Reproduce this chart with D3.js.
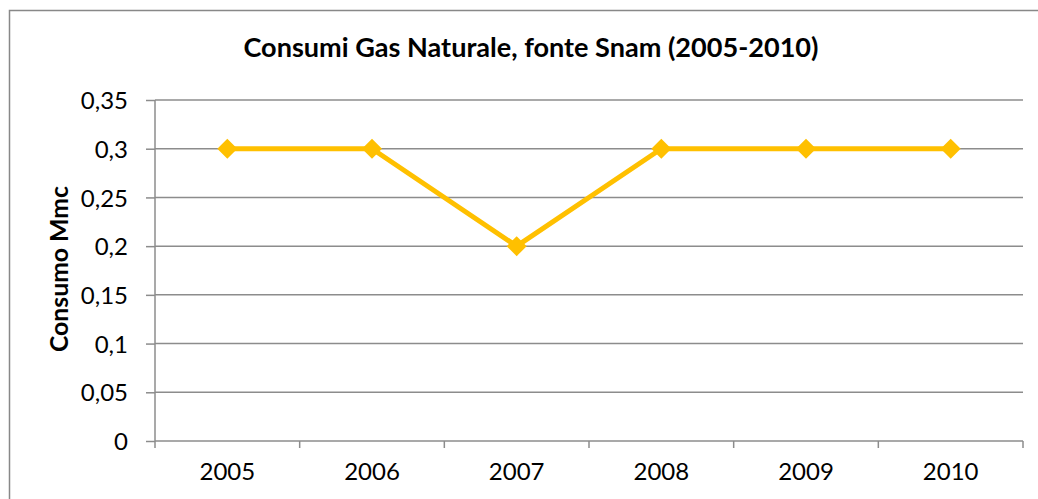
<!DOCTYPE html>
<html>
<head>
<meta charset="utf-8">
<script src="https://cdn.jsdelivr.net/npm/d3@7"></script>
<style>
  body { margin: 0; background: #fff; }
  svg text { font-family: Lato, "Open Sans", sans-serif; fill: #000; }
</style>
</head>
<body>
<div class="viz"></div>
<script>
// data
const years = ["2005", "2006", "2007", "2008", "2009", "2010"];
const consumi = [0.3, 0.3, 0.2, 0.3, 0.3, 0.3];
const yTicks = [0, 0.05, 0.1, 0.15, 0.2, 0.25, 0.3, 0.35];

var width = 1038, height = 499;
var margin = { top: 100, left: 155, right: 15, bottom: 58 };
var plotW = width - margin.left - margin.right,
    plotH = height - margin.top - margin.bottom;

var svg = d3.select('.viz').append('svg')
    .attr('width', width)
    .attr('height', height);

// chart area border (runs past the right and bottom edge)
svg.append('rect')
    .attr('x', 9.5).attr('y', 10.5)
    .attr('width', 1040).attr('height', 500)
    .attr('fill', 'none')
    .attr('stroke', '#888')
    .attr('stroke-width', 1.5);

var x = d3.scaleBand().domain(years).range([0, plotW]);
var y = d3.scaleLinear().domain([0, 0.35]).range([plotH, 0]);

var g = svg.append('g')
    .attr('transform', 'translate(' + margin.left + ',' + margin.top + ')');

// gridlines
g.append('g')
    .selectAll('line')
    .data(yTicks.filter(d => d > 0))
    .enter().append('line')
    .attr('x1', 0).attr('x2', plotW)
    .attr('y1', d => y(d)).attr('y2', d => y(d))
    .attr('stroke', '#8c8c8c')
    .attr('stroke-width', 1.5);

// y axis
var yAxis = g.append('g')
    .call(d3.axisLeft(y).tickValues(yTicks).tickSize(9).tickPadding(18)
        .tickFormat(d => d3.format('')(d).replace('.', ',')));
yAxis.selectAll('line, path').attr('stroke', '#8c8c8c').attr('stroke-width', 1.5);
yAxis.select('.domain').attr('d', 'M0,0V' + plotH);
yAxis.selectAll('text').attr('font-size', 24).attr('dy', '0.36em')
    .style('font-family', 'Lato, sans-serif');

// x axis with ticks at category boundaries
var xAxis = g.append('g').attr('transform', 'translate(0,' + plotH + ')');
xAxis.append('line')
    .attr('x1', 0).attr('x2', plotW)
    .attr('stroke', '#8c8c8c').attr('stroke-width', 1.5);
xAxis.selectAll('.tk')
    .data(years.map(d => x(d)).concat([plotW]))
    .enter().append('line')
    .attr('x1', d => d).attr('x2', d => d)
    .attr('y1', 0).attr('y2', 7)
    .attr('stroke', '#8c8c8c').attr('stroke-width', 1.5);
xAxis.selectAll('text')
    .data(years)
    .enter().append('text')
    .attr('x', d => x(d) + x.bandwidth() / 2)
    .attr('y', 39)
    .attr('text-anchor', 'middle')
    .attr('font-size', 24)
    .text(d => d);

// line
var line = d3.line()
    .x((d, i) => x(years[i]) + x.bandwidth() / 2)
    .y(d => y(d));

g.append('path')
    .datum(consumi)
    .attr('d', line)
    .attr('fill', 'none')
    .attr('stroke', '#FFC000')
    .attr('stroke-width', 5)
    .attr('stroke-linejoin', 'round');

g.append('g')
    .selectAll('path')
    .data(consumi)
    .enter().append('path')
    .attr('d', 'M0,-10L10,0L0,10L-10,0Z')
    .attr('transform', (d, i) => 'translate(' + (x(years[i]) + x.bandwidth() / 2) + ',' + y(d) + ')')
    .attr('fill', '#FFC000');

// title
svg.append('text')
    .attr('x', 531).attr('y', 57)
    .attr('text-anchor', 'middle')
    .attr('font-size', 26)
    .attr('font-weight', 'bold')
    .attr('textLength', 575)
    .attr('lengthAdjust', 'spacingAndGlyphs')
    .text('Consumi Gas Naturale, fonte Snam (2005-2010)');

// y axis title
svg.append('text')
    .attr('transform', 'translate(68,269) rotate(-90)')
    .attr('text-anchor', 'middle')
    .attr('font-size', 25)
    .attr('font-weight', 'bold')
    .attr('textLength', 166)
    .attr('lengthAdjust', 'spacingAndGlyphs')
    .text('Consumo Mmc');
</script>
</body>
</html>
